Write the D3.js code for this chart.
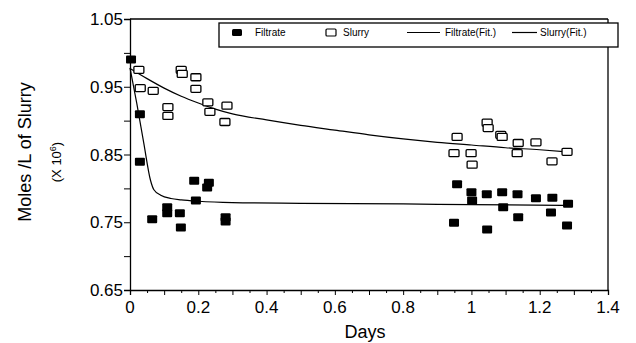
<!DOCTYPE html>
<html><head><meta charset="utf-8">
<script src="https://cdn.jsdelivr.net/npm/d3@7"></script>
<style>body{margin:0;background:#fff}svg{display:block}text{font-family:"Liberation Sans",Arial,sans-serif;fill:#000}</style>
</head><body><svg id="c" width="636" height="343"></svg>
<script>
const filtrateDays = [0.003,0.029,0.029,0.065,0.109,0.109,0.146,0.149,0.188,0.193,0.231,0.226,0.280,0.280,
  0.958,0.949,1.000,1.002,1.045,1.046,1.090,1.093,1.135,1.137,1.189,1.237,1.233,1.283,1.280];
const filtrateVals = [0.991,0.910,0.840,0.755,0.773,0.764,0.764,0.743,0.812,0.783,0.809,0.802,0.758,0.752,
  0.807,0.750,0.795,0.783,0.792,0.740,0.795,0.773,0.792,0.758,0.786,0.787,0.765,0.778,0.746];
const slurryDays = [0.026,0.030,0.068,0.111,0.111,0.150,0.153,0.193,0.193,0.228,0.234,0.284,0.278,
  0.958,0.949,0.999,1.002,1.046,1.049,1.086,1.090,1.137,1.134,1.189,1.236,1.280];
const slurryVals = [0.975,0.948,0.944,0.920,0.907,0.975,0.969,0.964,0.947,0.927,0.913,0.922,0.898,
  0.876,0.852,0.852,0.835,0.897,0.889,0.879,0.876,0.867,0.852,0.868,0.840,0.854];
const filtrateFitDays = [0,0.02,0.04,0.06,0.07,0.09,0.12,0.15,0.2,0.3,0.5,0.8,1.0,1.283];
const filtrateFitVals = [0.978,0.925,0.868,0.812,0.798,0.790,0.785,0.783,0.781,0.779,0.778,0.777,0.776,0.775];
const slurryFitDays = [0,0.05,0.1,0.15,0.2,0.25,0.3,0.4,0.5,0.6,0.7,0.8,0.9,1.0,1.1,1.2,1.28];
const slurryFitVals = [0.977,0.962,0.948,0.936,0.926,0.917,0.910,0.901,0.893,0.886,0.879,0.873,0.868,0.864,0.860,0.857,0.854];
const xTicks = [0,0.2,0.4,0.6,0.8,1,1.2,1.4];
const xTickLabels = ["0","0.2","0.4","0.6","0.8","1","1.2","1.4"];
const yTicks = [0.65,0.75,0.85,0.95,1.05];
const yTickLabels = ["0.65","0.75","0.85","0.95","1.05"];
const legendLabels = ["Filtrate","Slurry","Filtrate(Fit.)","Slurry(Fit.)"];

const svg = d3.select("#c");
const x = d3.scaleLinear().domain([0,1.4]).range([130,608]);
const y = d3.scaleLinear().domain([0.65,1.05]).range([290,19]);

// frame
svg.append("line").attr("x1",130).attr("x2",608).attr("y1",y(1.05)).attr("y2",y(1.05)).attr("stroke","#000").attr("stroke-width",1.3);
svg.append("line").attr("x1",x(1.4)).attr("x2",x(1.4)).attr("y1",19).attr("y2",290).attr("stroke","#000").attr("stroke-width",1.3);

// x axis
const xAx = svg.append("g").attr("transform","translate(0,290)")
  .call(d3.axisBottom(x).tickValues(d3.range(0,1.401,0.1)).tickSize(5).tickFormat(""));
xAx.select(".domain").attr("stroke-width",1.3);
const xMinor = svg.append("g").attr("transform","translate(0,290)")
  .call(d3.axisBottom(x).tickValues(d3.range(0.05,1.4,0.1)).tickSize(3).tickFormat(""));
xMinor.select(".domain").remove();
svg.append("g").selectAll("text").data(xTicks).join("text")
  .attr("x",d=>x(d)).attr("y",313).attr("text-anchor","middle").attr("font-size",17)
  .text((d,i)=>xTickLabels[i]);

// y axis
const yAx = svg.append("g").attr("transform","translate(130,0)")
  .call(d3.axisLeft(y).tickValues(d3.range(0.65,1.0501,0.05)).tickSize(6).tickFormat(""));
yAx.select(".domain").attr("stroke-width",1.3);
svg.append("g").selectAll("text").data(yTicks).join("text")
  .attr("x",123).attr("y",d=>y(d)+6).attr("text-anchor","end").attr("font-size",17)
  .text((d,i)=>yTickLabels[i]);

svg.append("text").attr("x",365).attr("y",338).attr("text-anchor","middle").attr("font-size",18).text("Days");
svg.append("text").attr("transform","translate(31,152) rotate(-90)").attr("text-anchor","middle").attr("font-size",18).text("Moles /L of Slurry");
const t2 = svg.append("text").attr("transform","translate(61,162) rotate(-90)").attr("text-anchor","middle").attr("font-size",13);
t2.append("tspan").text("(X 10");
t2.append("tspan").attr("font-size",9).attr("dy",-5).text("6");
t2.append("tspan").attr("dy",5).text(")");

// fit lines
const line = d3.line().x(d=>x(d[0])).y(d=>y(d[1])).curve(d3.curveMonotoneX);
svg.append("path").datum(d3.zip(filtrateFitDays,filtrateFitVals)).attr("d",line)
  .attr("fill","none").attr("stroke","#000").attr("stroke-width",1.2);
svg.append("path").datum(d3.zip(slurryFitDays,slurryFitVals)).attr("d",line)
  .attr("fill","none").attr("stroke","#000").attr("stroke-width",1.2);

// points
const W=10,H=7;
svg.append("g").selectAll("rect").data(d3.zip(slurryDays,slurryVals)).join("rect")
  .attr("x",d=>x(d[0])-W/2).attr("y",d=>y(d[1])-H/2).attr("width",W).attr("height",H).attr("rx",1)
  .attr("fill","#fff").attr("stroke","#000").attr("stroke-width",1.3);
svg.append("g").selectAll("rect").data(d3.zip(filtrateDays,filtrateVals)).join("rect")
  .attr("x",d=>x(d[0])-W/2).attr("y",d=>y(d[1])-H/2).attr("width",W).attr("height",H+1).attr("rx",1)
  .attr("fill","#000");

// legend
const lg = svg.append("g");
lg.append("rect").attr("x",219).attr("y",23).attr("width",399).attr("height",24).attr("fill","#fff").attr("stroke","#000").attr("stroke-width",1.3);
lg.append("rect").attr("x",232).attr("y",29).attr("width",10).attr("height",7).attr("rx",1.5).attr("fill","#000");
lg.append("rect").attr("x",326).attr("y",29).attr("width",10).attr("height",7).attr("rx",1).attr("fill","#fff").attr("stroke","#000").attr("stroke-width",1.2);
lg.append("line").attr("x1",407).attr("x2",440).attr("y1",32.5).attr("y2",32.5).attr("stroke","#000").attr("stroke-width",1.2);
lg.append("line").attr("x1",512).attr("x2",537).attr("y1",32.5).attr("y2",32.5).attr("stroke","#000").attr("stroke-width",1.2);
const lx=[255,343,445,540];
lg.selectAll("text").data(legendLabels).join("text").attr("x",(d,i)=>lx[i]).attr("y",36).attr("font-size",10).text(d=>d);
</script></body></html>
